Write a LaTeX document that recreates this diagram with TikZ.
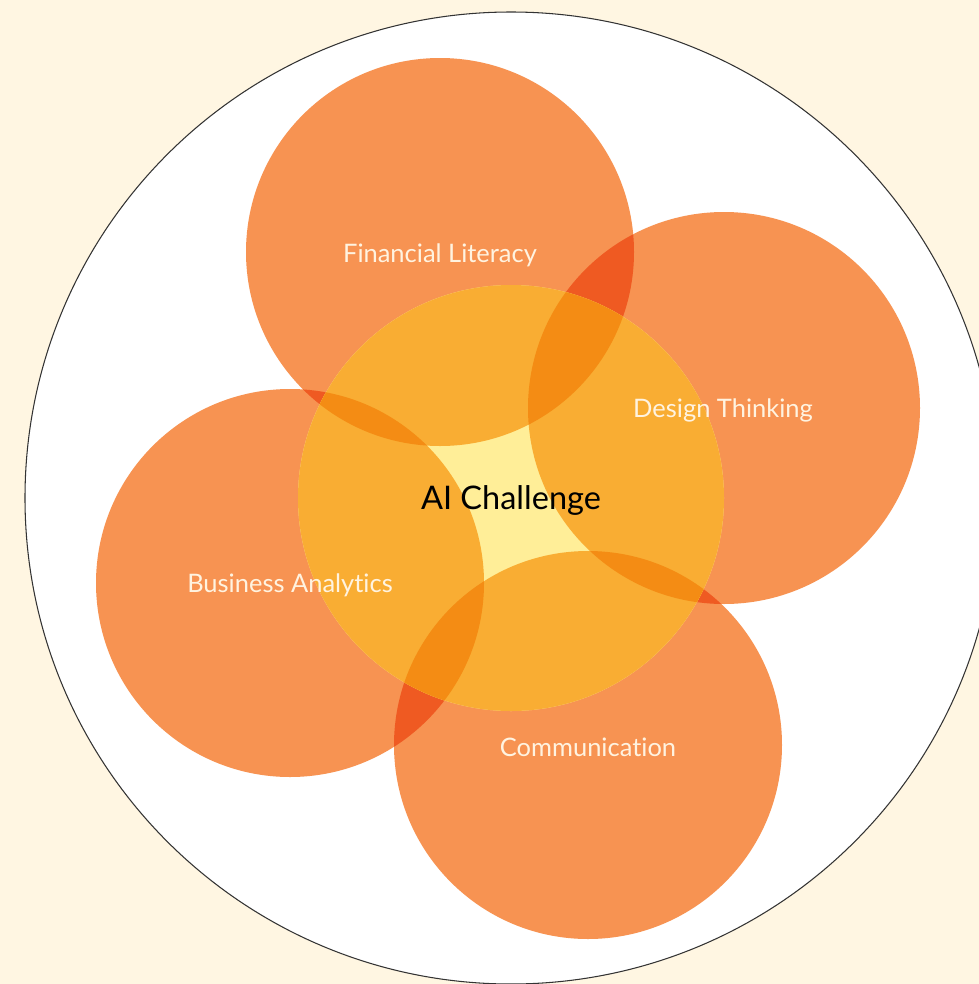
\documentclass[tikz,border=0pt]{standalone}
\usepackage{fontspec}
\setmainfont{Lato}[Ligatures={NoCommon}]
\usepackage{tikz}
\definecolor{cream}{HTML}{FFF6E2}
\definecolor{petalfill}{HTML}{F79352}
\definecolor{petalover}{HTML}{EF5A22}
\definecolor{corefill}{HTML}{FFEE98}
\definecolor{coreone}{HTML}{F9AD33}
\definecolor{coretwo}{HTML}{F48C14}
\definecolor{labelcream}{HTML}{FFF3E0}
\newcommand{\rcore}{213}
\tikzset{
  petal label/.style = {text=labelcream, font=\fontsize{14.5}{16}\selectfont},
  core label/.style  = {text=black, font=\fontsize{18.5}{21}\selectfont},
  rim/.style         = {draw=black!80, line width=0.6pt, fill=white}
}

\begin{document}
\begin{tikzpicture}[x=0.02cm, y=-0.02cm]
  \fill[cream] (0,0) rectangle (979,984);
  \useasboundingbox (0,0) rectangle (979,984);
  \coordinate (core) at (511,498);
  \coordinate (fin) at (440,252);
  \coordinate (des) at (724,408);
  \coordinate (bus) at (290,583);
  \coordinate (com) at (588,745);
  \draw[rim] (core) circle (486);
  % outer circles
  \foreach \c/\r in {fin/194,des/196,bus/194,com/194}
    \fill[petalfill] (\c) circle (\r);
  % where two outer circles meet
  \foreach \a/\ra/\b/\rb in {fin/194/des/196,des/196/com/194,com/194/bus/194,bus/194/fin/194}{
    \begin{scope}
      \clip (\a) circle (\ra);
      \fill[petalover] (\b) circle (\rb);
    \end{scope}
  }
  % centre circle
  \fill[corefill] (core) circle (\rcore);
  \begin{scope}
    \clip (core) circle (\rcore);
    \foreach \c/\r in {fin/194,des/196,bus/194,com/194}
      \fill[coreone] (\c) circle (\r);
  \end{scope}
  \foreach \a/\ra/\b/\rb in {fin/194/des/196,des/196/com/194,com/194/bus/194,bus/194/fin/194}{
    \begin{scope}
      \clip (core) circle (\rcore);
      \clip (\a) circle (\ra);
      \fill[coretwo] (\b) circle (\rb);
    \end{scope}
  }
  % labels
  \node[petal label] (finlabel) at (440,255) {Financial Literacy};
  \node[petal label] (deslabel) at (723,410) {Design Thinking};
  \node[petal label] (buslabel) at (290,585) {Business Analytics};
  \node[petal label] (comlabel) at (588,747) {Communication};
  \node[core label] (corelabel) at (511,500) {AI Challenge};
\end{tikzpicture}
\end{document}
